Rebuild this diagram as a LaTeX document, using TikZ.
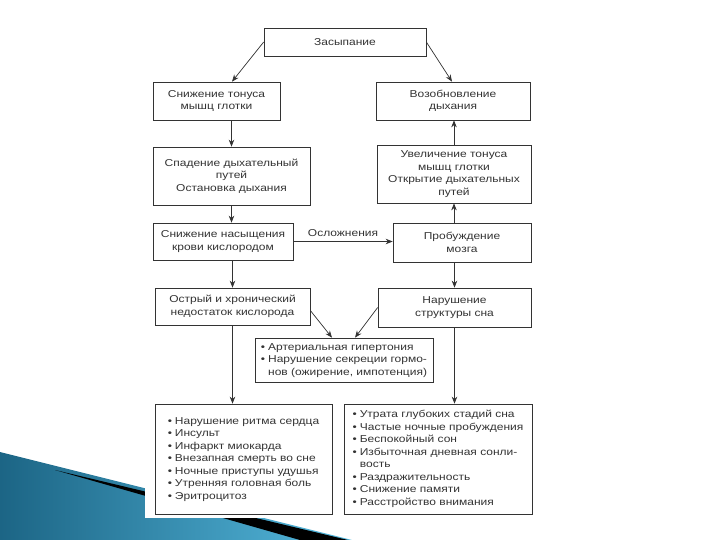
\documentclass[tikz,border=0pt]{standalone}
\usepackage{fontspec}
\setmainfont{Liberation Sans}[FakeStretch=1.2]
\usetikzlibrary{arrows.meta}
\definecolor{swdark}{HTML}{1C6585}
\definecolor{swlight}{HTML}{55B9DE}
\definecolor{ink}{HTML}{333333}
\begin{document}
\begin{tikzpicture}[x=1pt,y=-1pt,
  box/.style={draw=ink,line width=0.7pt,align=center,inner sep=0pt,text=ink,
    font=\fontsize{10}{12.5}\selectfont},
  arr/.style={draw=ink,line width=0.7pt,-{Stealth[length=7pt,width=5.5pt]}},
  lst/.style={box,align=left}]
\useasboundingbox (0,0) rectangle (720,540);
\fill[white] (0,0) rectangle (720,540);
% swoosh
\shade[left color=swdark,right color=swlight] (0,452) -- (352,540) -- (0,540) -- cycle;
\fill[black] (55,470) -- (348,540) -- (300,540) -- cycle;
% diagram sheet
\fill[white] (145,15) rectangle (535,518);
% nodes
\node[box,minimum width=162pt,minimum height=28pt] (top) at (345,42) {Засыпание};
\node[box,minimum width=127pt,minimum height=38pt] (L1) at (216.5,101) {Снижение тонуса\\мышц глотки};
\node[box,minimum width=154pt,minimum height=38pt] (R1) at (453,101) {Возобновление\\дыхания};
\node[box,minimum width=157pt,minimum height=58pt] (L2) at (231.5,176) {Спадение дыхательный\\путей\\Остановка дыхания};
\node[box,minimum width=154pt,minimum height=58pt] (R2) at (454,174) {Увеличение тонуса\\мышц глотки\\Открытие дыхательных\\путей};
\node[box,minimum width=140pt,minimum height=37pt] (L3) at (223,241.5) {Снижение насыщения\\крови кислородом};
\node[box,minimum width=138pt,minimum height=39pt] (R3) at (462,242.5) {Пробуждение\\мозга};
\node[box,minimum width=155pt,minimum height=37pt] (L4) at (232.5,306.5) {Острый и хронический\\недостаток кислорода};
\node[box,minimum width=153pt,minimum height=39pt] (R4) at (454.5,307.5) {Нарушение\\структуры сна};
\node[box,minimum width=178pt,minimum height=44pt] (M) at (344,360) {\begin{tabular}{@{}l@{\hspace{3pt}}l@{}}•&Артериальная гипертония\\•&Нарушение секреции гормо-\\&нов (ожирение, импотенция)\end{tabular}};
\node[box,minimum width=177pt,minimum height=110pt] (BL) at (243.5,459) {\begin{tabular}{@{}l@{\hspace{3pt}}l@{}}•&Нарушение ритма сердца\\•&Инсульт\\•&Инфаркт миокарда\\•&Внезапная смерть во сне\\•&Ночные приступы удушья\\•&Утренняя головная боль\\•&Эритроцитоз\end{tabular}};
\node[box,minimum width=188pt,minimum height=110pt] (BR) at (438,459) {\begin{tabular}{@{}l@{\hspace{3pt}}l@{}}•&Утрата глубоких стадий сна\\•&Частые ночные пробуждения\\•&Беспокойный сон\\•&Избыточная дневная сонли-\\&вость\\•&Раздражительность\\•&Снижение памяти\\•&Расстройство внимания\end{tabular}};
% connectors
\draw[arr] (top.west) -- ([xshift=15.5pt]L1.north);
\draw[arr] (top.east) -- ([xshift=-1pt]R1.north);
\draw[arr] (L1.south -| L2.north) -- (L2.north);
\draw[arr] (L2.south) -- (L3.north -| L2.south);
\draw[arr] (L3.south -| L4.north) -- (L4.north);
\draw[arr] (L4.south) -- (BL.north -| L4.south);
\draw[arr] (R3.north -| R2.south) -- (R2.south);
\draw[arr] (R2.north) -- (R1.south -| R2.north);
\draw[arr] (R3.south -| R4.north) -- (R4.north);
\draw[arr] (R4.south) -- (BR.north -| R4.south);
\draw[arr] (L3.east) -- node[above=1pt,text=ink,font=\fontsize{10}{12}\selectfont] (lab) {Осложнения} (R3.west |- L3.east);
\draw[arr] ([yshift=-4pt]L4.east) -- ([xshift=-12pt]M.north);
\draw[arr] (R4.west) -- ([xshift=11pt]M.north);
\end{tikzpicture}
\end{document}
